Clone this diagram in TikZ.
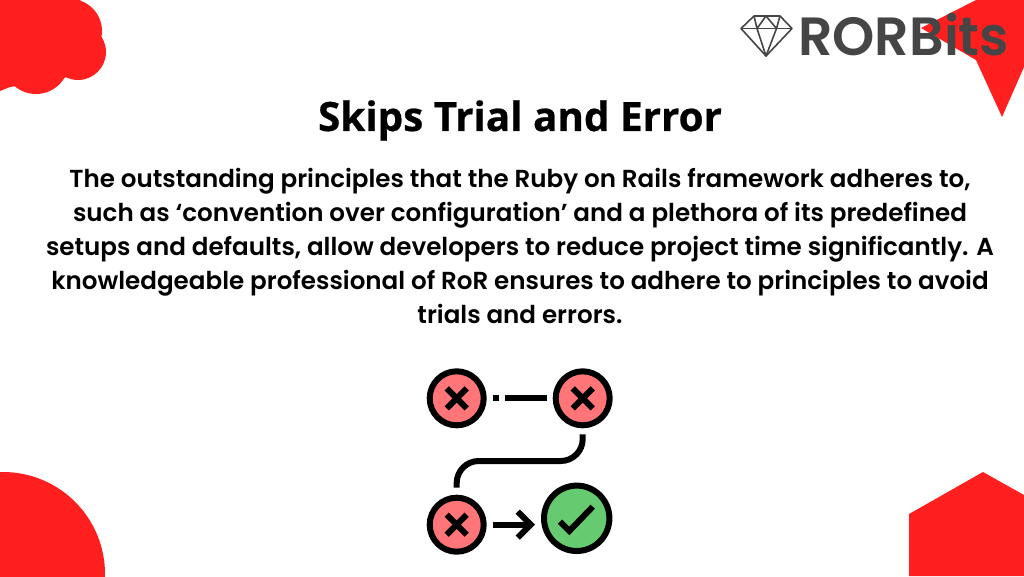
\documentclass[tikz,border=0pt]{standalone}
\usepackage{fontspec}
\setmainfont{Poppins SemiBold}
\newfontfamily\titlefont[BoldFeatures={FakeBold=0.6}]{Open Sans}
\newfontfamily\logofont{Poppins SemiBold}
\usetikzlibrary{arrows.meta,shapes.misc}

\definecolor{blobred}{HTML}{FF1F1F}
\definecolor{crossred}{HTML}{FF7578}
\definecolor{okgreen}{HTML}{66CB70}
\definecolor{logogray}{HTML}{454545}

\begin{document}
\begin{tikzpicture}[x=1pt, y=-1pt,
                    blob/.style={fill=blobred,draw=none},
                    step node/.style={circle,draw=black,line width=6pt,fill=crossred,inner sep=0pt,minimum size=54pt},
                    mark node/.style={cross out,draw=black,line width=6pt,inner sep=0pt,outer sep=0pt,minimum size=20pt},
                    path line/.style={draw=black,line width=6pt},
                    gem line/.style={draw=logogray,line width=1.6pt,line join=round}]
  \useasboundingbox (0,0) rectangle (1024,576);

  % corners
  \fill[blob] (0,0) -- (80,0) -- (100,20) -- (98,35) -- (65,78) -- (10,87) -- (0,91) -- cycle;
  \fill[blob] (70,31) circle[radius=32];
  \fill[blob] (78,52) circle[radius=28];
  \fill[blob] (36,61) circle[radius=33];
  \begin{scope}
    \clip (0,0) rectangle (1024,576);
    \fill[blob] (3,574) circle[radius=102];
  \end{scope}
  \fill[blob] (976,0) -- (921,28) -- (976,60) -- (1002,117) -- (1024,67) -- (1024,0) -- cycle;
  \fill[blob] (909,576) -- (909,514) -- (983,472) -- (1024,495) -- (1024,576) -- cycle;

  % logo
  \draw[gem line] (754,16) -- (780,16) -- (792,28.5) -- (766,56) -- (741,28.5) -- cycle;
  \draw[gem line] (741,28.5) -- (792,28.5);
  \draw[gem line] (754,16) -- (757,28.5) -- (766,16) -- (776.5,28.5) -- (780,16);
  \draw[gem line] (757,28.5) -- (766,56) -- (776.5,28.5);
  \node[text=logogray,font=\logofont\fontsize{53.8}{54}\selectfont,anchor=base west,inner sep=0pt] (logo) at (798,55) {RORBits};

  % texts
  \node[font=\titlefont\bfseries\fontsize{40.4}{40}\selectfont,inner sep=0pt] (title) at (520,120.5) {Skips Trial and Error};
  \node[font=\fontsize{24.6}{34}\selectfont,align=center,inner sep=0pt,anchor=north] (body) at (520,168) {%
    The outstanding principles that the Ruby on Rails framework adheres to,\\
    such as ‘convention over configuration’ and a plethora of its predefined\\
    setups and defaults, allow developers to reduce project time significantly. A\\
    knowledgeable professional of RoR ensures to adhere to principles to avoid\\
    trials and errors.};

  % icon
  \node[step node] (x1) at (456.7,398.3) {};
  \node[step node] (x2) at (582.7,398.3) {};
  \node[step node] (x3) at (456.7,524.7) {};
  \node[step node,fill=okgreen,minimum size=65.4pt] (ok) at (576.7,518.3) {};
  \node[mark node] (m1) at (x1) {};
  \node[mark node] (m2) at (x2) {};
  \node[mark node] (m3) at (x3) {};
  \coordinate (c1) at (560,521.7);
  \coordinate (c2) at (569.3,531);
  \coordinate (c3) at (592.7,506.7);
  \draw[path line] (c1) -- (c2) -- (c3);

  \draw[path line,dash pattern=on 6.3pt off 6pt on 42pt off 50pt,shorten <=6pt,shorten >=6pt] (x1.east) -- (x2.west);
  \coordinate (bend1) at (582.7,461);
  \coordinate (bend2) at (456.7,461);
  \draw[path line,rounded corners=22pt,shorten <=6pt,shorten >=7pt] (x2.south) -- (bend1) -- (bend2) -- (x3.north);
  \coordinate (tip) at (ok.west |- x3);
  \draw[path line,-{Straight Barb[length=13pt,width=26pt]},shorten <=6pt,shorten >=6pt] (x3.east) -- (tip);
\end{tikzpicture}
\end{document}
